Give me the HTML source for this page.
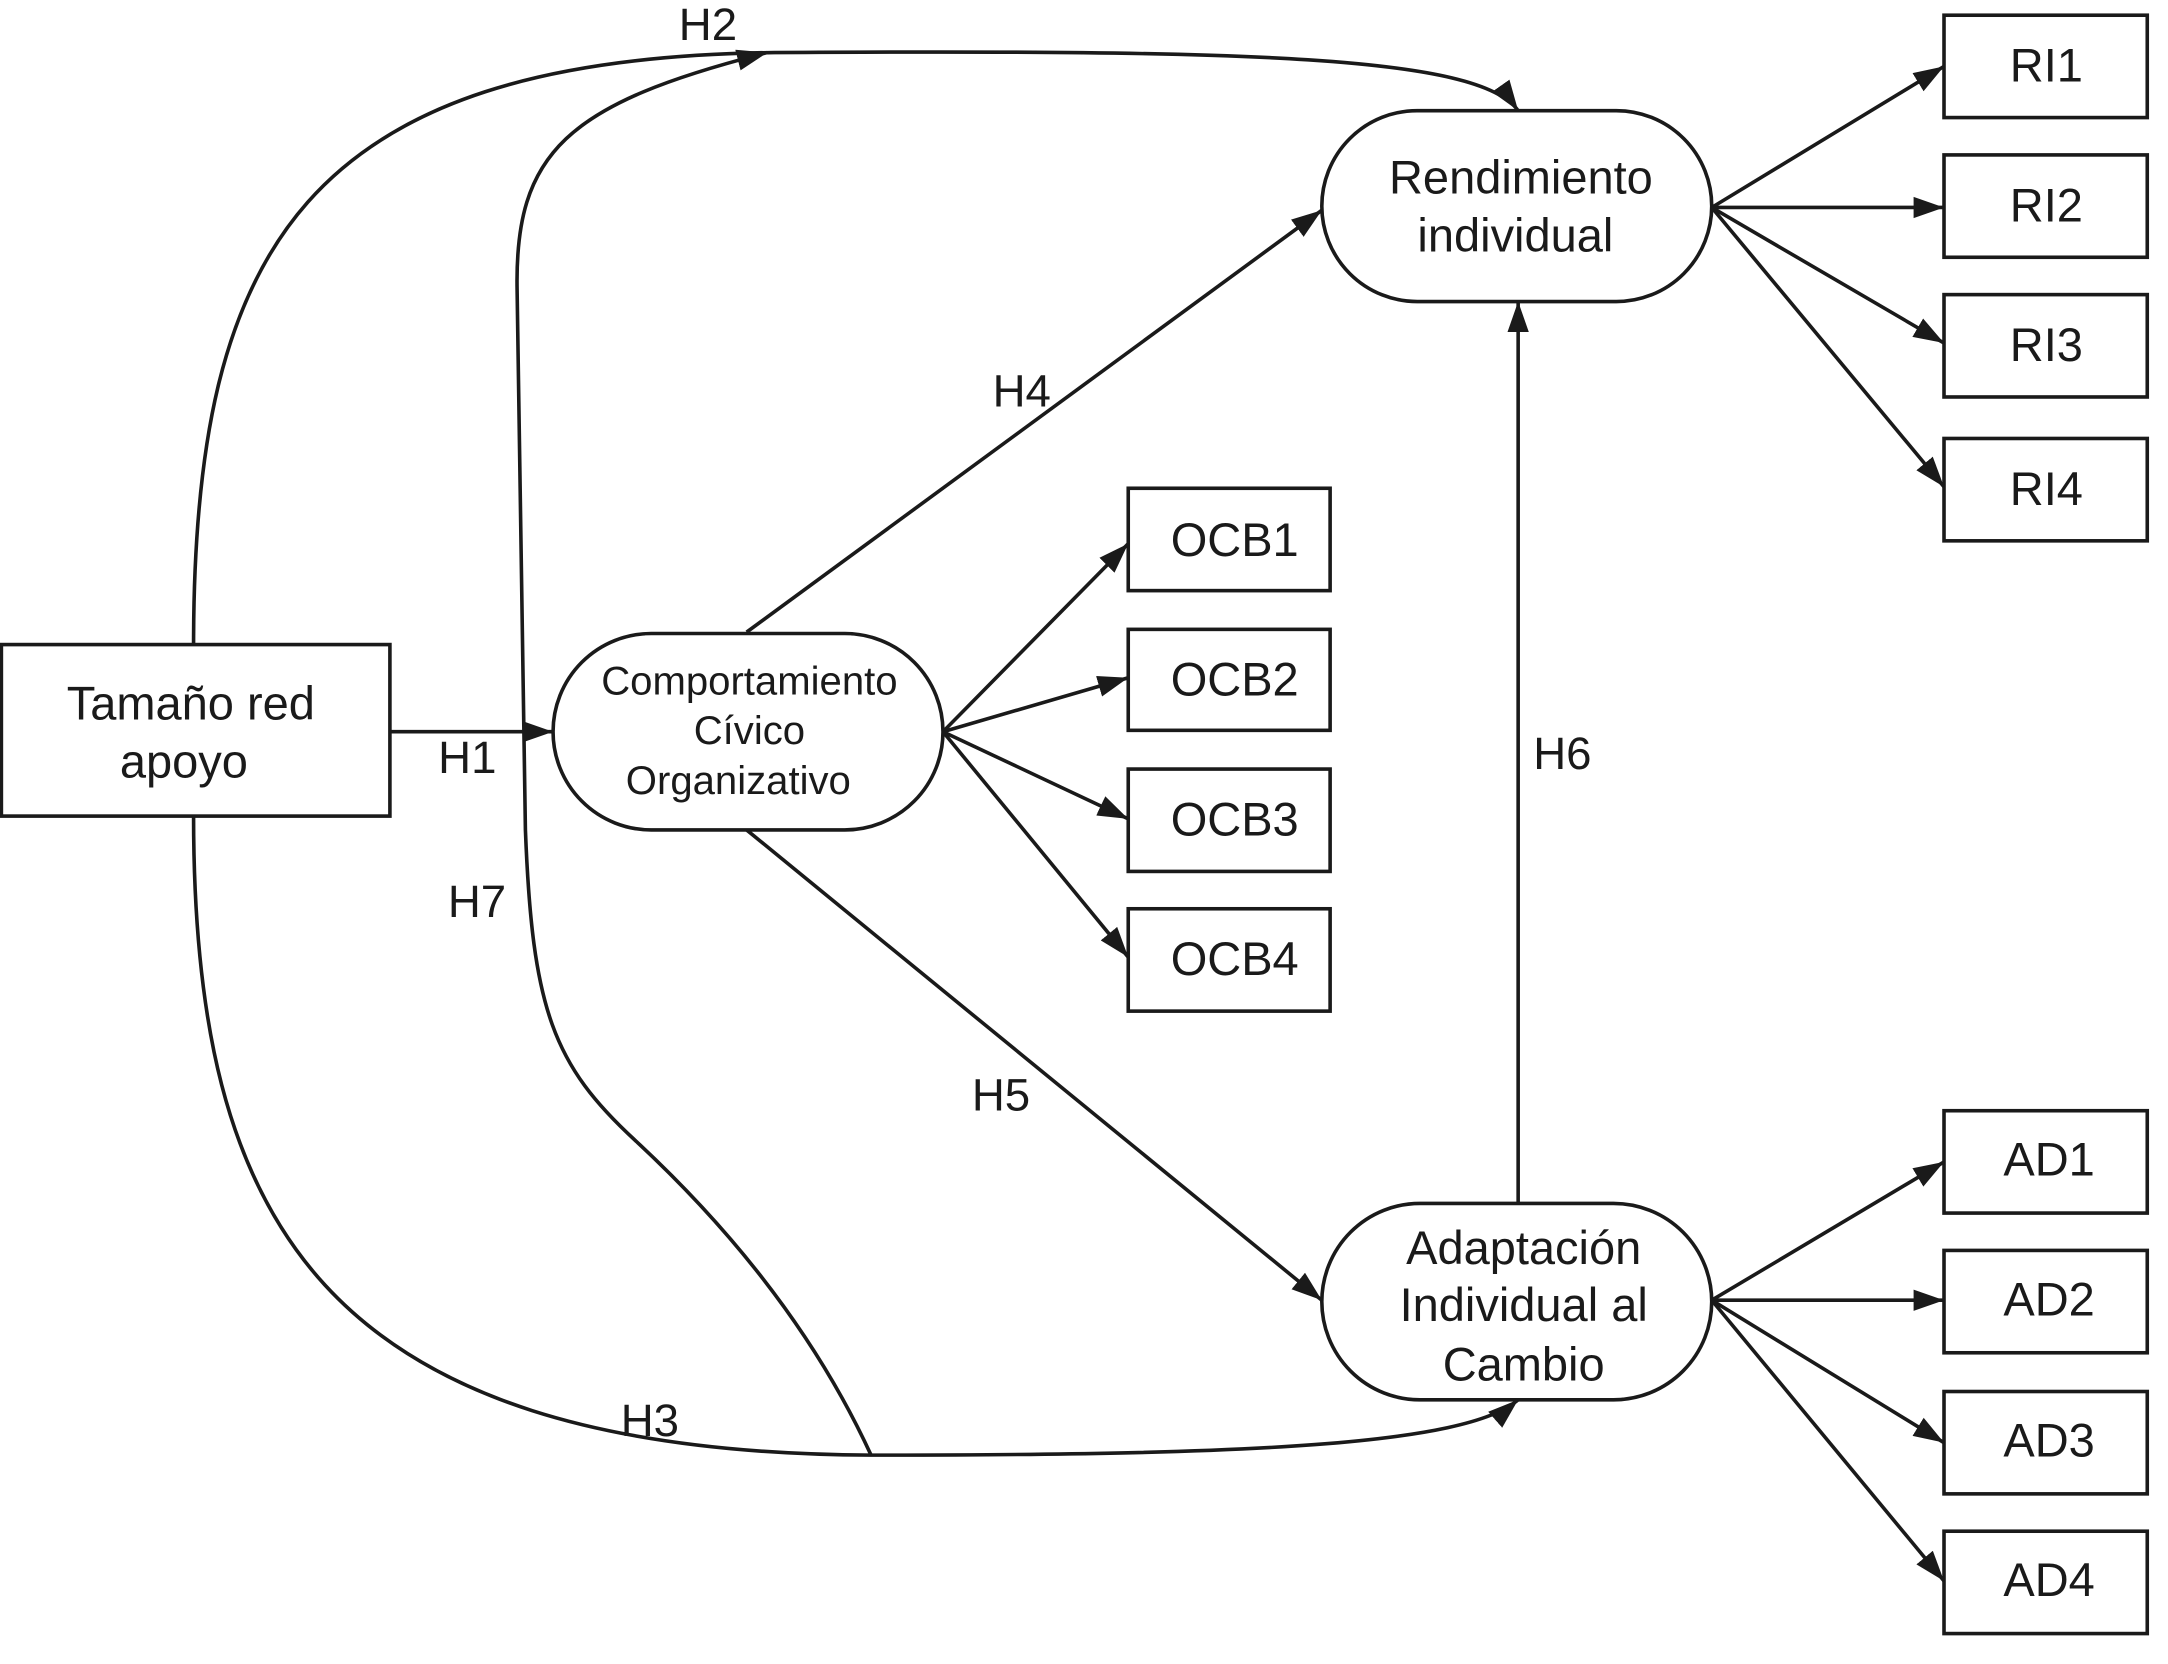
<!DOCTYPE html>
<html><head><meta charset="utf-8"><style>
html,body{margin:0;padding:0;background:#fff}
svg{display:block}
text{font-family:"Liberation Sans",sans-serif;fill:#1a1a1a}
</style></head><body>
<svg width="2168" height="1664" viewBox="0 0 1568 1203" preserveAspectRatio="none">
<defs>
<marker id="b" viewBox="0 0 20 14" refX="20" refY="7" markerWidth="22" markerHeight="16" markerUnits="userSpaceOnUse" orient="auto">
<path d="M0,0 L20,7 L0,14 z" fill="#1a1a1a"/>
</marker>
</defs>
<g fill="none" stroke="#1a1a1a" stroke-width="2.6">
<rect x="1" y="466" width="281" height="124"/>
<rect x="400" y="458" width="282" height="142" rx="71"/>
<rect x="956" y="80" width="282" height="138" rx="69"/>
<rect x="956" y="870" width="282" height="142" rx="71"/>
<rect x="816" y="353" width="146" height="74"/>
<rect x="816" y="455" width="146" height="73"/>
<rect x="816" y="556" width="146" height="74"/>
<rect x="816" y="657" width="146" height="74"/>
<rect x="1406" y="11" width="147" height="74"/>
<rect x="1406" y="112" width="147" height="74"/>
<rect x="1406" y="213" width="147" height="74"/>
<rect x="1406" y="317" width="147" height="74"/>
<rect x="1406" y="803" width="147" height="74"/>
<rect x="1406" y="904" width="147" height="74"/>
<rect x="1406" y="1006" width="147" height="74"/>
<rect x="1406" y="1107" width="147" height="74"/>
</g>
<g fill="none" stroke="#1a1a1a" stroke-width="2.6" marker-end="url(#b)">
<path d="M282,529 L400,529"/>
<path d="M540,457 L956,152"/>
<path d="M540,600 L956,940"/>
<path d="M1098,870 L1098,218"/>
<path d="M682,529 L816,393"/>
<path d="M682,529 L816,490"/>
<path d="M682,529 L816,592"/>
<path d="M682,529 L816,692"/>
<path d="M1238,150 L1406,48"/>
<path d="M1238,150 L1406,150"/>
<path d="M1238,150 L1406,248"/>
<path d="M1238,150 L1406,352"/>
<path d="M1238,940 L1406,840"/>
<path d="M1238,940 L1406,940"/>
<path d="M1238,940 L1406,1043"/>
<path d="M1238,940 L1406,1143"/>
<path d="M140,466 C140,180 220,42 560,38 C900,36 1070,40 1098,80"/>
<path d="M630,1052 C590,965 530,890 460,825 C400,770 385,730 380,600 L374,210 C372,110 410,75 555,38"/>
<path d="M140,590 C140,880 230,1050 630,1052 C900,1052 1060,1045 1098,1012"/>
</g>
<g font-size="34" text-anchor="middle">
<text x="138" y="520">Tamaño red</text>
<text x="133" y="562">apoyo</text>
<text x="1100" y="140">Rendimiento</text>
<text x="1096" y="182">individual</text>
<text x="1102" y="914">Adaptación</text>
<text x="1102" y="955">Individual al</text>
<text x="1102" y="998">Cambio</text>
<text x="893" y="402">OCB1</text>
<text x="893" y="503">OCB2</text>
<text x="893" y="604">OCB3</text>
<text x="893" y="705">OCB4</text>
<text x="1480" y="59">RI1</text>
<text x="1480" y="160">RI2</text>
<text x="1480" y="261">RI3</text>
<text x="1480" y="365">RI4</text>
<text x="1482" y="850">AD1</text>
<text x="1482" y="951">AD2</text>
<text x="1482" y="1053">AD3</text>
<text x="1482" y="1154">AD4</text>
</g>
<g font-size="29" text-anchor="middle">
<text x="542" y="502">Comportamiento</text>
<text x="542" y="538">Cívico</text>
<text x="534" y="574">Organizativo</text>
</g>
<g font-size="33" text-anchor="middle">
<text x="512" y="29">H2</text>
<text x="338" y="559">H1</text>
<text x="345" y="663">H7</text>
<text x="739" y="294">H4</text>
<text x="724" y="803">H5</text>
<text x="1130" y="556">H6</text>
<text x="470" y="1038">H3</text>
</g>
</svg>
</body></html>
